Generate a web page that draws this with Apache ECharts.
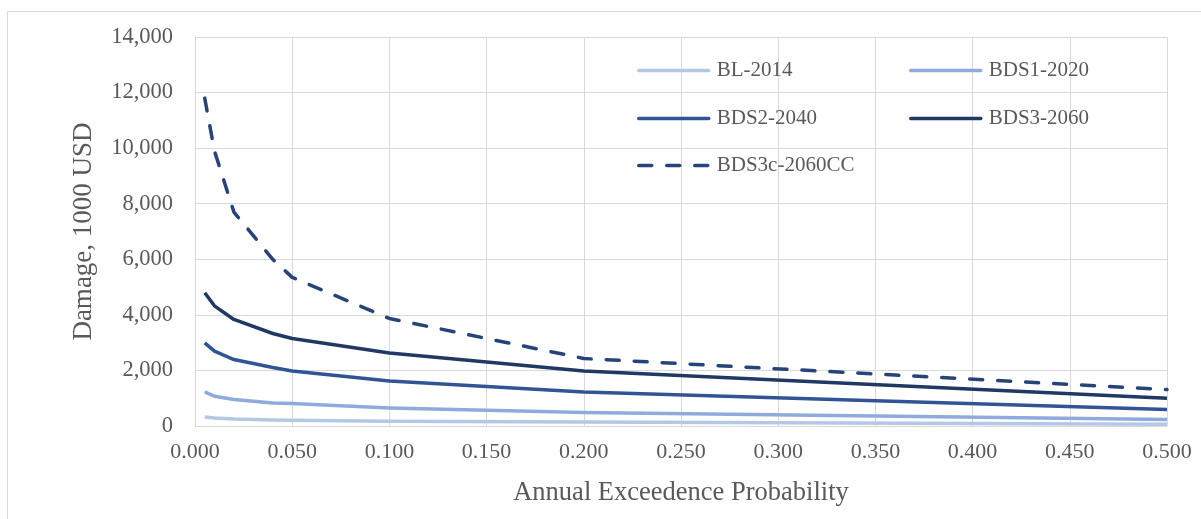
<!DOCTYPE html>
<html>
<head>
<meta charset="utf-8">
<script src="https://cdn.jsdelivr.net/npm/echarts@6/dist/echarts.min.js"></script>
<style>
  html, body { margin: 0; padding: 0; background: #ffffff; }
  #chart { width: 1201px; height: 519px; }
</style>
</head>
<body>
<div id="chart"></div>
<script>
// Annual exceedance probabilities at which damage was computed
const probabilities = [0.005, 0.01, 0.02, 0.04, 0.05, 0.1, 0.2, 0.5];

// Damage (1000 USD) per scenario
const bl2014    = [324, 290, 252, 215, 205, 169, 145, 60];
const bds1_2020 = [1226, 1070, 951, 829, 807, 649, 482, 230];
const bds2_2040 = [2991, 2692, 2392, 2104, 1982, 1622, 1226, 590];
const bds3_2060 = [4793, 4325, 3834, 3329, 3149, 2631, 1982, 998];
const bds3c_2060cc = [11800, 9900, 7700, 6000, 5350, 3870, 2430, 1310];

const seriesNames = ['BL-2014', 'BDS1-2020', 'BDS2-2040', 'BDS3-2060', 'BDS3c-2060CC'];
const seriesValues = [bl2014, bds1_2020, bds2_2040, bds3_2060, bds3c_2060cc];
const seriesColors = ['#b4c7e7', '#8faadc', '#2f5597', '#1f3864', '#264478'];
const DASH = [13, 15];

const FONT = '"Liberation Serif", "Times New Roman", serif';
const TEXT = '#595959';
const GRID = '#d9d9d9';
const LINE_W = 3.5;

const series = seriesNames.map((name, i) => ({
  name: name,
  type: 'line',
  data: probabilities.map((p, j) => [p, seriesValues[i][j]]),
  showSymbol: false,
  symbol: 'none',
  smooth: false,
  z: 2 + i,
  lineStyle: {
    color: seriesColors[i],
    width: LINE_W,
    type: i === 4 ? DASH : 'solid',
    cap: i === 4 ? 'round' : 'butt',
    join: 'round'
  },
  itemStyle: { color: seriesColors[i] }
}));

// legend laid out as two columns, three rows
const legendPos = [
  { left: 637, top: 60 },
  { left: 909, top: 60 },
  { left: 637, top: 108 },
  { left: 909, top: 108 },
  { left: 637, top: 155 }
];
const legends = seriesNames.map((name, i) => ({
  data: [name],
  left: legendPos[i].left,
  top: legendPos[i].top,
  padding: 0,
  itemWidth: 70,
  itemHeight: 14,
  selectedMode: false,
  itemStyle: { opacity: 0 },
  lineStyle: {
    width: LINE_W,
    type: i === 4 ? DASH : 'solid',
    cap: 'round'
  },
  textStyle: { fontFamily: FONT, fontSize: 21, color: TEXT, padding: [0, 0, 0, 3] }
}));

const chart = echarts.init(document.getElementById('chart'), null, { renderer: 'canvas' });
chart.setOption({
  backgroundColor: '#ffffff',
  animation: false,
  graphic: [{
    type: 'rect',
    shape: { x: 7.5, y: 11.5, width: 1210, height: 530 },
    style: { fill: 'none', stroke: GRID, lineWidth: 1 },
    silent: true
  }],
  legend: legends,
  grid: { left: 195, right: 34, top: 37, bottom: 93, containLabel: false },
  xAxis: {
    type: 'value',
    min: 0,
    max: 0.5,
    interval: 0.05,
    name: 'Annual Exceedence Probability',
    nameLocation: 'middle',
    nameGap: 54,
    nameTextStyle: { fontFamily: FONT, fontSize: 26.5, color: TEXT },
    axisLine: { show: true, lineStyle: { color: GRID, width: 1 } },
    axisTick: { show: false },
    splitLine: { show: true, lineStyle: { color: GRID, width: 1 } },
    axisLabel: {
      fontFamily: FONT, fontSize: 22, color: TEXT, margin: 15,
      formatter: v => v.toFixed(3)
    }
  },
  yAxis: {
    type: 'value',
    min: 0,
    max: 14000,
    interval: 2000,
    name: 'Damage, 1000 USD',
    nameLocation: 'middle',
    nameGap: 98,
    nameTextStyle: { fontFamily: FONT, fontSize: 27, color: TEXT },
    axisLine: { show: true, lineStyle: { color: GRID, width: 1 } },
    axisTick: { show: false },
    splitLine: { show: true, lineStyle: { color: GRID, width: 1 } },
    axisLabel: {
      fontFamily: FONT, fontSize: 22.5, color: TEXT, margin: 22,
      formatter: v => v.toLocaleString('en-US')
    }
  },
  series: series
});
</script>
</body>
</html>
